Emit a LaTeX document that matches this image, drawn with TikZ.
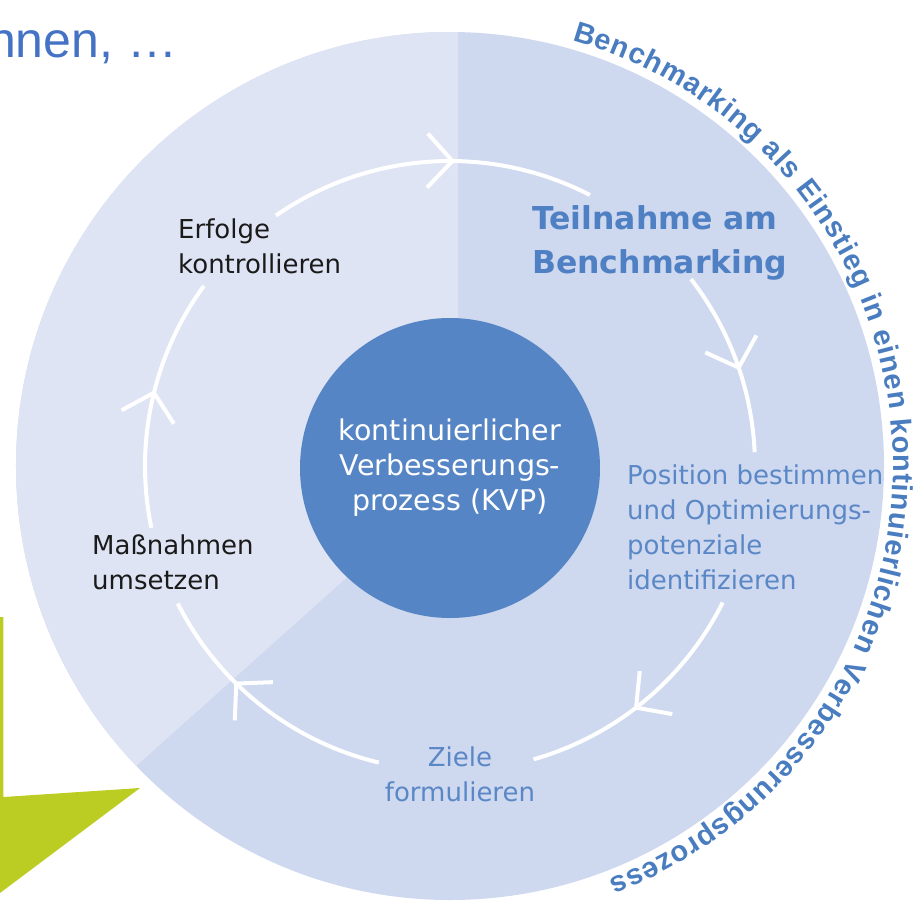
\documentclass[tikz,border=0pt]{standalone}
\usepackage{fontspec}
\setmainfont{DejaVu Sans}
\newfontfamily\slidefont{Liberation Sans}
\usetikzlibrary{arrows.meta, decorations.markings, decorations.text}

\definecolor{ringlight}{HTML}{DFE4F4}
\definecolor{ringdark}{HTML}{CED8EF}
\definecolor{coreblue}{HTML}{5585C5}
\definecolor{labelblue}{HTML}{5A87C6}
\definecolor{headblue}{HTML}{4F80C3}
\definecolor{arcblue}{HTML}{4A7DC0}
\definecolor{slideblue}{HTML}{4472C4}
\definecolor{leafgreen}{HTML}{BBCD22}
\definecolor{inkblack}{HTML}{1A1A1A}

\tikzstyle{darklabel} = [anchor=west, align=left, inner sep=0pt, text=inkblack, font=\fontsize{26}{35}\selectfont]
\tikzstyle{bluelabel} = [darklabel, text=labelblue]
\tikzstyle{headlabel} = [anchor=west, align=left, inner sep=0pt, text=headblue, font=\bfseries\fontsize{31.5}{44}\selectfont]
\tikzstyle{core} = [circle, fill=coreblue, minimum size=300pt, inner sep=0pt, align=center, text=white, font=\fontsize{28.5}{35}\selectfont]
\tikzstyle{cyclearc} = [draw=white, line width=4pt]
\tikzset{arrowat/.style={postaction={decorate, decoration={markings,
  mark=at position #1 with {\arrow{Straight Barb[length=25pt, width=54pt]}}}}}}

\begin{document}
\begin{tikzpicture}[x=1pt, y=1pt]
	\clip (-450,-440) rectangle (470,466);
	% ring with its two shades
	\fill[ringdark] (0,0) circle (434);
	\begin{scope}
		\clip (0,0) circle (434);
		\fill[ringlight] (8,-12) -- (8,500) -- (-600,500) -- (-600,-556) -- cycle;
	\end{scope}
	% green arrow of the slide
	\fill[leafgreen] (-470,-151) -- (-446.5,-151) -- (-446.5,-331) -- (-310,-322) -- (-470,-442) -- cycle;
	\node[anchor=base west, inner sep=0pt, text=slideblue, font=\slidefont\fontsize{50}{50}\selectfont] (slide) at (-462,409) {nnen, …};

	\node[core] (kvp) at (0,-2) {kontinuierlicher\\Verbesserungs-\\prozess (KVP)};

	\node[darklabel] (erfolge) at (-272,220) {Erfolge\\kontrollieren};
	\node[headlabel] (teilnahme) at (82,223) {Teilnahme am\\Benchmarking};
	\node[bluelabel] (position) at (177,-61) {Position bestimmen\\und Optimierungs-\\potenziale\\identifizieren};
	\node[bluelabel, anchor=center, align=center] (ziele) at (10,-308) {Ziele\\formulieren};
	\node[darklabel] (massnahmen) at (-358,-96) {Maßnahmen\\umsetzen};

	% cycle arcs between the labels
	\coordinate (erfolge-out) at (124.8:305);
	\coordinate (teilnahme-out) at (37.8:305);
	\coordinate (position-out) at (-26.6:305);
	\coordinate (ziele-out) at (256.5:305);
	\coordinate (massnahmen-out) at (191.7:305);
	\draw[cyclearc, arrowat=0.576] (erfolge-out) arc[start angle=124.8, end angle=62.7, radius=305];
	\draw[cyclearc, arrowat=0.554] (teilnahme-out) arc[start angle=37.8, end angle=2.6, radius=305];
	\draw[cyclearc, arrowat=0.554] (position-out) arc[start angle=-26.6, end angle=-74.1, radius=305];
	\draw[cyclearc, arrowat=0.634] (ziele-out) arc[start angle=256.5, end angle=206.8, radius=305];
	\draw[cyclearc, arrowat=0.545] (massnahmen-out) arc[start angle=191.7, end angle=143.8, radius=305];

	% text round the ring
	\path[decorate, decoration={text along path, text color=arcblue, text align={fit to path},
		text={|\slidefont\bfseries\fontsize{29}{29}\selectfont|Benchmarking als Einstieg in einen kontinuierlichen Verbesserungsprozess}}]
		(74:443) arc[start angle=74, end angle=-69, radius=443];
\end{tikzpicture}
\end{document}
